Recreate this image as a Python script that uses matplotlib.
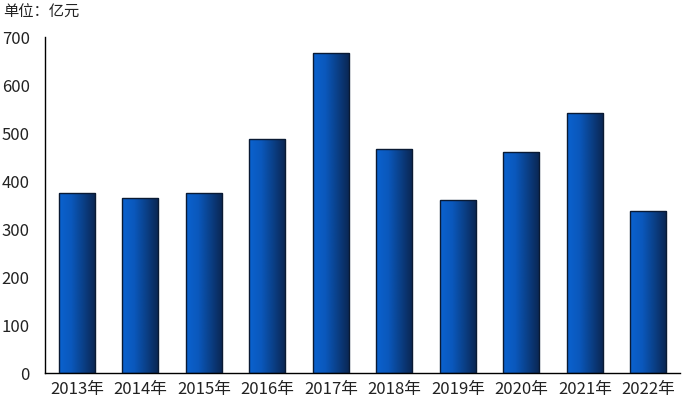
import numpy as np
import matplotlib.pyplot as plt
from matplotlib.colors import LinearSegmentedColormap

plt.rcParams['font.family'] = ['Noto Sans CJK SC', 'DejaVu Sans']

years = ['2013年', '2014年', '2015年', '2016年', '2017年',
         '2018年', '2019年', '2020年', '2021年', '2022年']
values = [375, 365, 375, 487, 667, 467, 360, 460, 542, 337]

fig = plt.figure(figsize=(6.83, 4.03), dpi=100)
ax = fig.add_axes([0.066, 0.0744, 0.9296, 0.8336])

x = np.arange(len(years))
width = 0.57
bars = ax.bar(x, values, width=width, color='none', edgecolor='#0a1a33', linewidth=1.0, zorder=3)

# horizontal gradient: light blue on the left, dark navy on the right
cmap = LinearSegmentedColormap.from_list('bar', ['#0b62cf', '#0a58bc', '#0a3f86', '#0b2550'])
grad = np.linspace(0, 1, 256).reshape(1, -1)
for b in bars:
    x0, w, h = b.get_x(), b.get_width(), b.get_height()
    im = ax.imshow(grad, cmap=cmap, aspect='auto', extent=[x0, x0 + w, 0, h],
                   interpolation='bilinear', zorder=2)
    im.set_clip_path(b)

ax.set_xlim(-0.5, len(years) - 0.5)
ax.set_ylim(0, 700)
ax.set_yticks(range(0, 701, 100))
ax.set_xticks(x)
ax.set_xticklabels(years)
ax.tick_params(length=0, labelsize=12, colors='#222222')
ax.tick_params(axis='x', pad=6)
ax.tick_params(axis='y', pad=11)
for s in ['top', 'right']:
    ax.spines[s].set_visible(False)
for s in ['left', 'bottom']:
    ax.spines[s].set_color('black')
    ax.spines[s].set_linewidth(1.0)

fig.text(0.005, 0.97, '单位：亿元', fontsize=11, va='center', ha='left', color='#222222')

fig.savefig('out.png', dpi=100)
